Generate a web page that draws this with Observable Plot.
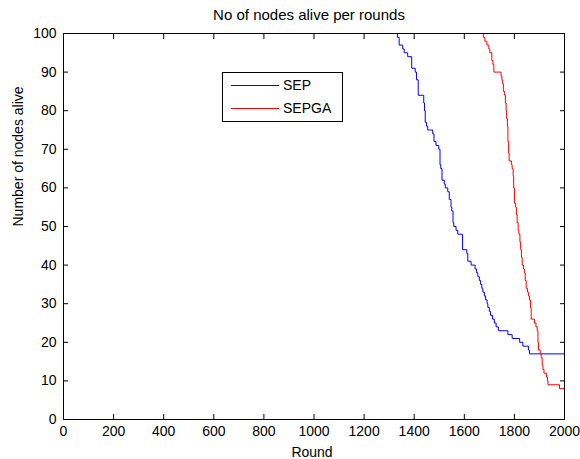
<!DOCTYPE html>
<html><head><meta charset="utf-8">
<script src="https://cdn.jsdelivr.net/npm/d3@7"></script>
<script src="https://cdn.jsdelivr.net/npm/@observablehq/plot@0.6"></script>
<style>
body{margin:0;background:#fff;}
#wrap{position:relative;width:580px;height:459px;font-family:"Liberation Sans",Arial,sans-serif;}
#legend{position:absolute;left:222px;top:72px;width:119px;height:48px;border:1px solid #000;background:#fff;font-size:14px;}
#legend .sw{position:absolute;left:8px;width:48px;height:0;border-top:1px solid;}
#legend .lb{position:absolute;left:60px;line-height:16px;color:#000;}
</style>
</head><body><div id="wrap"></div>
<script>
const title = "No of nodes alive per rounds";
const xLabel = "Round";
const yLabel = "Number of nodes alive";
const seriesNames = ["SEP", "SEPGA"];
const seriesColors = ["#0000ff", "#ff0000"];
const xTicks = [0, 200, 400, 600, 800, 1000, 1200, 1400, 1600, 1800, 2000];
const yTicks = [0, 10, 20, 30, 40, 50, 60, 70, 80, 90, 100];

const sepRound = [1327,1333,1340,1354,1360,1374,1390,1404,1409,1416,1438,1441,1444,1449,1454,1474,1479,1487,1498,1503,1506,1511,1520,1524,1534,1540,1547,1550,1555,1558,1567,1574,1593,1610,1614,1627,1643,1649,1654,1660,1665,1670,1674,1680,1685,1691,1694,1700,1705,1713,1720,1727,1736,1774,1791,1821,1834,1856,1860,2000];
const sepAlive = [100,99,97,96,95,94,91,90,88,84,82,80,77,76,75,74,72,71,70,66,65,62,61,60,59,57,55,54,51,50,49,48,44,43,41,40,39,38,37,36,35,34,33,32,31,30,29,28,27,26,25,24,23,22,21,20,19,18,17,17];

const sepgaRound = [1670,1676,1682,1690,1698,1702,1710,1714,1718,1747,1750,1752,1756,1761,1764,1767,1769,1772,1774,1777,1779,1788,1791,1795,1797,1800,1805,1808,1811,1815,1818,1822,1825,1828,1831,1836,1840,1843,1847,1852,1856,1860,1864,1867,1880,1886,1891,1894,1896,1903,1907,1911,1914,1918,1928,1932,1934,1980,2000];
const sepgaAlive = [100,99,98,97,96,95,93,92,90,89,88,87,85,84,82,80,78,76,72,69,67,66,65,63,60,56,55,53,51,49,48,46,44,42,40,39,38,36,34,33,32,31,29,26,25,24,23,20,18,17,16,14,13,12,11,10,9,8,8];

const rows = [
  ...sepRound.map((r, i) => ({round: r, alive: sepAlive[i], series: seriesNames[0]})),
  ...sepgaRound.map((r, i) => ({round: r, alive: sepgaAlive[i], series: seriesNames[1]}))
];

const font = '"Liberation Sans", Arial, sans-serif';
const fmt = d => String(d);
const chart = Plot.plot({
  width: 580,
  height: 459,
  marginLeft: 63,
  marginRight: 16,
  marginTop: 33,
  marginBottom: 40,
  style: {fontFamily: font, fontSize: "14px", background: "#fff", color: "#000"},
  x: {domain: [0, 2000]},
  y: {domain: [0, 100]},
  color: {domain: seriesNames, range: seriesColors},
  marks: [
    Plot.line(rows, {x: "round", y: "alive", z: "series", stroke: "series", curve: "step-after", strokeWidth: 1}),
    Plot.frame({stroke: "#000"}),
    Plot.axisX(xTicks, {anchor: "bottom", tickSize: -5, tickPadding: 12, tickFormat: fmt, label: null, fontSize: 14}),
    Plot.axisX(xTicks, {anchor: "top", tickSize: -5, tickFormat: () => "", label: null}),
    Plot.axisY(yTicks, {anchor: "left", tickSize: -5, tickPadding: 12, tickFormat: fmt, label: null, fontSize: 14}),
    Plot.axisY(yTicks, {anchor: "right", tickSize: -5, tickFormat: () => "", label: null}),
    Plot.text([title], {frameAnchor: "top", dy: -18, dx: -5, lineAnchor: "middle", fontSize: 15}),
    Plot.text([xLabel], {frameAnchor: "bottom", dy: 28, dx: -2, lineAnchor: "top", fontSize: 14}),
    Plot.text([yLabel], {frameAnchor: "left", dx: -45, rotate: -90, lineAnchor: "middle", fontSize: 14})
  ]
});
const wrap = document.getElementById("wrap");
wrap.appendChild(chart);

const legend = document.createElement("div");
legend.id = "legend";
const rowTops = [12, 35];
seriesNames.forEach((name, i) => {
  const sw = document.createElement("div");
  sw.className = "sw";
  sw.style.top = rowTops[i] + "px";
  sw.style.borderColor = seriesColors[i];
  const lb = document.createElement("div");
  lb.className = "lb";
  lb.style.top = (rowTops[i] - 8) + "px";
  lb.textContent = name;
  legend.appendChild(sw);
  legend.appendChild(lb);
});
wrap.appendChild(legend);
</script>
</body></html>
